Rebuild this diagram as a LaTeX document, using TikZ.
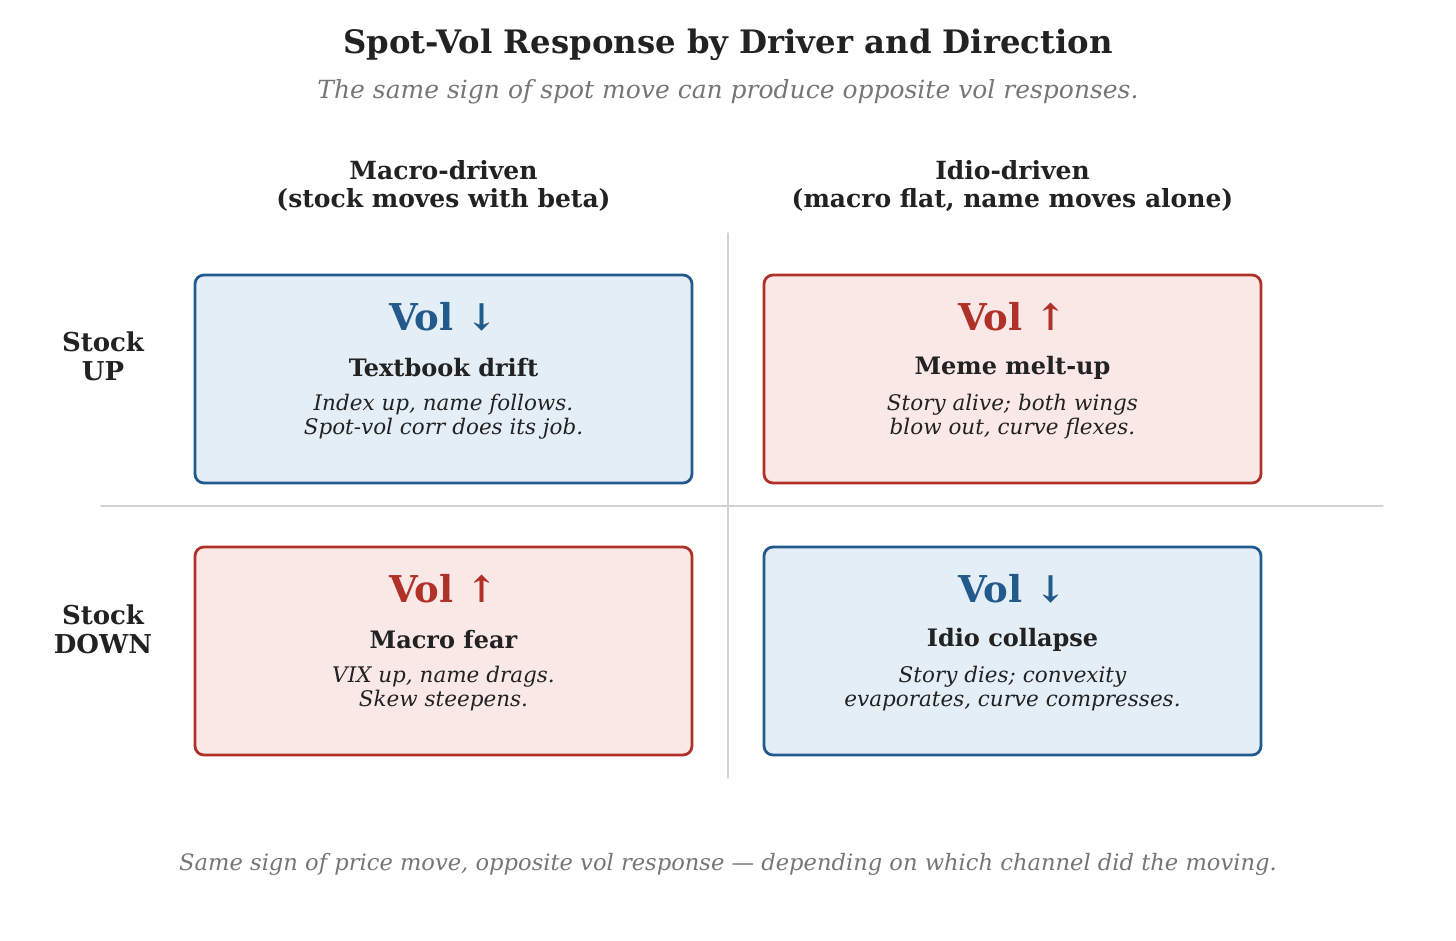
\documentclass[tikz,border=0pt]{standalone}
\usepackage{fontspec}
\setmainfont{DejaVu Serif}
\usetikzlibrary{positioning}
\definecolor{volblue}{HTML}{235A8C}
\definecolor{blueback}{HTML}{E3EEF7}
\definecolor{volred}{HTML}{AF3128}
\definecolor{redback}{HTML}{F9E8E6}
\definecolor{ink}{HTML}{222222}
\definecolor{greyink}{HTML}{767676}
\definecolor{rule}{HTML}{D2D2D2}
\tikzset{
  cellbox/.style={draw, line width=2.8pt, rounded corners=9pt,
    minimum width=497pt, minimum height=208pt, inner sep=0pt},
  bluecell/.style={cellbox, draw=volblue, fill=blueback},
  redcell/.style={cellbox, draw=volred, fill=redback},
  voltxt/.style={font=\bfseries\fontsize{37}{40}\selectfont},
  casetxt/.style={text=ink, font=\bfseries\fontsize{24}{28}\selectfont},
  notetxt/.style={text=ink, align=center, font=\itshape\fontsize{21.5}{24}\selectfont},
  headtxt/.style={text=ink, align=center, font=\bfseries\fontsize{25}{28}\selectfont},
  rowtxt/.style={text=ink, align=center, font=\bfseries\fontsize{26}{29}\selectfont},
}
% one quadrant: name, style, centre, colour, vol text, case, note
\newcommand\quadcell[7]{%
  \node[#2] (#1) at (#3) {};
  \node[voltxt, text=#4] (#1vol) at ([yshift=-43pt]#1.north) {#5};
  \node[casetxt] (#1case) at ([yshift=-94pt]#1.north) {#6};
  \node[notetxt] (#1note) at ([yshift=-143pt]#1.north) {#7};
}
\begin{document}
\begin{tikzpicture}[x=1pt, y=-1pt, line join=round, line cap=round]
  \useasboundingbox (0,0) rectangle (1456,940);
  % title block
  \node[text=ink, font=\bfseries\fontsize{32.3}{38}\selectfont] (title) at (728,45) {Spot-Vol Response by Driver and Direction};
  \node[text=greyink, font=\itshape\fontsize{25}{30}\selectfont] (subtitle) at (728,92) {The same sign of spot move can produce opposite vol responses.};
  % grid rules
  \coordinate (vtop) at (728,233);
  \coordinate (vbot) at (728,778);
  \coordinate (hleft) at (101,506);
  \coordinate (hright) at (1383,506);
  \draw[rule, line width=1.3pt] (vtop) -- (vbot) (hleft) -- (hright);
  % column and row heads
  \node[headtxt] (colmacro) at (443.5,186) {Macro-driven\\(stock moves with beta)};
  \node[headtxt] (colidio) at (1012.5,186) {Idio-driven\\(macro flat, name moves alone)};
  \node[rowtxt] (rowup) at (103,356) {Stock\\UP};
  \node[rowtxt] (rowdown) at (103,629) {Stock\\DOWN};
  % quadrants
  \quadcell{mup}{bluecell}{443.5,379}{volblue}{Vol ↓}{Textbook drift}{Index up, name follows.\\Spot-vol corr does its job.}
  \quadcell{iup}{redcell}{1012.5,379}{volred}{Vol ↑}{Meme melt-up}{Story alive; both wings\\blow out, curve flexes.}
  \quadcell{mdown}{redcell}{443.5,651}{volred}{Vol ↑}{Macro fear}{VIX up, name drags.\\Skew steepens.}
  \quadcell{idown}{bluecell}{1012.5,651}{volblue}{Vol ↓}{Idio collapse}{Story dies; convexity\\evaporates, curve compresses.}
  % footer
  \node[text=greyink, font=\itshape\fontsize{22.6}{27}\selectfont] (footer) at (728,864) {Same sign of price move, opposite vol response — depending on which channel did the moving.};
\end{tikzpicture}
\end{document}
